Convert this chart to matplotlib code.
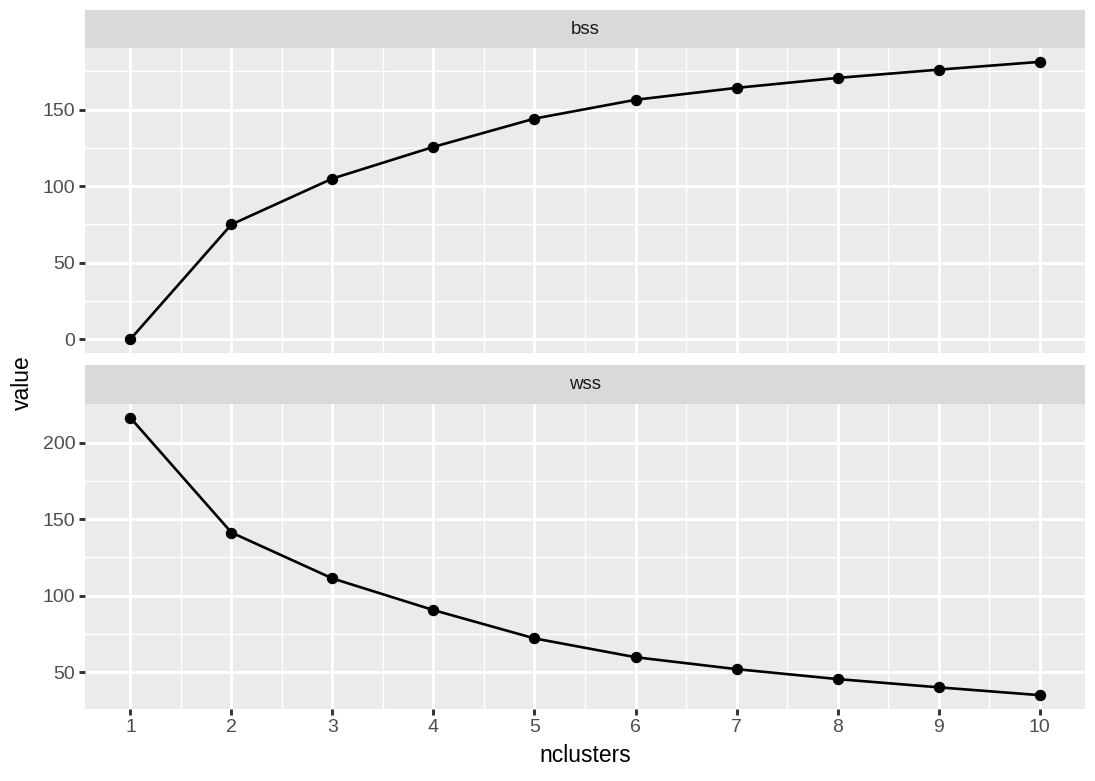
import matplotlib.pyplot as plt
import numpy as np

plt.rcParams['font.family'] = ['Liberation Sans', 'DejaVu Sans']

nclusters = [1, 2, 3, 4, 5, 6, 7, 8, 9, 10]
bss = [0, 75.0, 105.0, 125.7, 144.2, 156.5, 164.3, 170.8, 176.2, 181.3]
wss = [216.3, 141.3, 111.3, 90.6, 72.1, 59.8, 52.0, 45.5, 40.1, 35.0]
facets = ["bss", "wss"]
series = {"bss": bss, "wss": wss}
y_major = {"bss": [0, 50, 100, 150], "wss": [50, 100, 150, 200]}
y_minor = {"bss": [25, 75, 125, 175], "wss": [75, 125, 175]}

fig = plt.figure(figsize=(10.95, 7.81), dpi=100)
W, H = 1095, 781
left, right = 85 / W, 1085 / W
panels = {"bss": (48, 353, 10), "wss": (404, 709, 365)}

bg = "#EBEBEB"
for name in facets:
    top, bot, strip_top = panels[name]
    ax = fig.add_axes([left, 1 - bot / H, right - left, (bot - top) / H])
    ax.set_facecolor(bg)
    vals = np.array(series[name])
    pad = 0.05 * (vals.max() - vals.min())
    ax.set_ylim(vals.min() - pad, vals.max() + pad)
    ax.set_xlim(1 - 0.45, 10 + 0.45)
    ax.set_xticks(nclusters)
    ax.set_xticks(np.arange(1.5, 10, 1), minor=True)
    ax.set_yticks(y_major[name])
    ax.set_yticks(y_minor[name], minor=True)
    ax.grid(which="major", color="white", linewidth=2.1)
    ax.grid(which="minor", color="white", linewidth=1.05)
    ax.set_axisbelow(True)
    for s in ax.spines.values():
        s.set_visible(False)
    ax.tick_params(which="major", length=4.1, width=2.1, color="#333333",
                   labelsize=14, labelcolor="#4D4D4D", pad=3)
    ax.tick_params(which="minor", length=0)
    if name == "bss":
        ax.tick_params(axis="x", which="major", length=0, labelbottom=False)
    ax.plot(nclusters, vals, color="black", linewidth=1.9, zorder=3)
    ax.scatter(nclusters, vals, color="black", s=52, zorder=4)

    sax = fig.add_axes([left, 1 - top / H, right - left, (top - strip_top) / H])
    sax.set_facecolor("#D9D9D9")
    sax.set_xticks([])
    sax.set_yticks([])
    for s in sax.spines.values():
        s.set_visible(False)
    sax.text(0.5, 0.5, name, ha="center", va="center", fontsize=13.5,
             color="#1A1A1A", transform=sax.transAxes)

fig.text(22 / W, 1 - 383 / H, "value", rotation=90, ha="center", va="center",
         fontsize=16.5, color="black")
fig.text((left + right) / 2, 1 - 755 / H, "nclusters", ha="center", va="center",
         fontsize=16.5, color="black")

fig.savefig("out.png", dpi=100)
